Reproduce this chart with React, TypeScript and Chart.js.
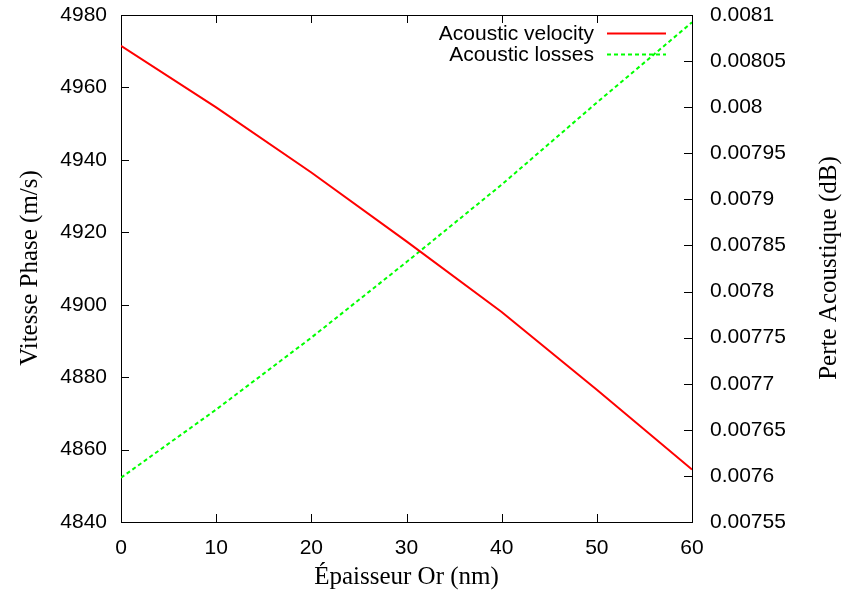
import React, { useEffect, useRef } from "react";
import { Chart, registerables } from "chart.js";

Chart.register(...registerables);

// ---- data ----
const thickness = [0, 10, 20, 30, 40, 50, 60];
const velocity = [4971.5, 4954.5, 4936.5, 4917.5, 4898, 4876.5, 4854.5];
const losses = [0.007598, 0.007672, 0.00775, 0.007832, 0.007916, 0.008005, 0.008092];

const xTicks = [0, 10, 20, 30, 40, 50, 60];
const velocityTicks = [4840, 4860, 4880, 4900, 4920, 4940, 4960, 4980];
const lossTicks = [0.00755, 0.0076, 0.00765, 0.0077, 0.00775, 0.0078, 0.00785, 0.0079, 0.00795, 0.008, 0.00805, 0.0081];

const seriesLabels = ["Acoustic velocity", "Acoustic losses"];
const xTitle = "Épaisseur Or (nm)";
const yTitle = "Vitesse Phase (m/s)";
const y2Title = "Perte Acoustique (dB)";

const SANS = "'Liberation Sans', Arial, sans-serif";
const SERIF = "'Liberation Serif', 'Times New Roman', serif";
const TICK_FONT = { family: SANS, size: 21 };

const fmtLoss = (v: number) => String(Number(v.toFixed(6)));

const decor = {
  id: "gnuplotDecor",
  beforeDatasetsDraw(chart: any) {
    const { ctx, chartArea } = chart;
    const { left, right, top, bottom } = chartArea;
    ctx.save();
    ctx.strokeStyle = "#000";
    ctx.lineWidth = 1;
    ctx.strokeRect(Math.round(left) + 0.5, Math.round(top) + 0.5, Math.round(right - left), Math.round(bottom - top));
    const L = 8;
    ctx.beginPath();
    const xs = chart.scales.x;
    xs.ticks.forEach((t: any) => {
      const px = Math.round(xs.getPixelForValue(t.value)) + 0.5;
      ctx.moveTo(px, bottom);
      ctx.lineTo(px, bottom - L);
      ctx.moveTo(px, top);
      ctx.lineTo(px, top + L);
    });
    const ys = chart.scales.y;
    ys.ticks.forEach((t: any) => {
      const py = Math.round(ys.getPixelForValue(t.value)) + 0.5;
      ctx.moveTo(left, py);
      ctx.lineTo(left + L, py);
    });
    const y2 = chart.scales.y1;
    y2.ticks.forEach((t: any) => {
      const py = Math.round(y2.getPixelForValue(t.value)) + 0.5;
      ctx.moveTo(right, py);
      ctx.lineTo(right - L, py);
    });
    ctx.stroke();
    ctx.restore();
  },
  afterDatasetsDraw(chart: any) {
    const { ctx, chartArea } = chart;
    ctx.save();
    // legend (inside, top right)
    ctx.font = `21px ${SANS}`;
    ctx.fillStyle = "#000";
    ctx.textAlign = "right";
    ctx.textBaseline = "middle";
    const rows = [33, 54];
    chart.data.datasets.forEach((ds: any, i: number) => {
      const y = rows[i];
      ctx.fillText(ds.label, 594, y + 1);
      ctx.beginPath();
      ctx.strokeStyle = ds.borderColor;
      ctx.lineWidth = ds.borderWidth;
      ctx.setLineDash(ds.borderDash || []);
      ctx.moveTo(607, y + 0.5);
      ctx.lineTo(666, y + 0.5);
      ctx.stroke();
    });
    ctx.setLineDash([]);
    // axis titles
    ctx.font = `25px ${SERIF}`;
    ctx.fillStyle = "#000";
    ctx.textAlign = "center";
    ctx.textBaseline = "middle";
    ctx.fillText(xTitle, (chartArea.left + chartArea.right) / 2, 577);
    ctx.save();
    ctx.translate(30, 268);
    ctx.rotate(-Math.PI / 2);
    ctx.fillText(yTitle, 0, 0);
    ctx.restore();
    ctx.save();
    ctx.translate(829, 268);
    ctx.rotate(-Math.PI / 2);
    ctx.fillText(y2Title, 0, 0);
    ctx.restore();
    ctx.restore();
  },
};

export default function App() {
  const ref = useRef<HTMLCanvasElement | null>(null);
  useEffect(() => {
    if (!ref.current) return;
    const chart = new Chart(ref.current, {
      type: "line",
      data: {
        datasets: [
          {
            label: seriesLabels[0],
            data: thickness.map((x, i) => ({ x, y: velocity[i] })),
            yAxisID: "y",
            borderColor: "#ff0000",
            borderWidth: 2,
            pointRadius: 0,
            tension: 0,
            fill: false,
          },
          {
            label: seriesLabels[1],
            data: thickness.map((x, i) => ({ x, y: losses[i] })),
            yAxisID: "y1",
            borderColor: "#00ff00",
            borderWidth: 2,
            borderDash: [4, 3],
            pointRadius: 0,
            tension: 0,
            fill: false,
          },
        ],
      },
      options: {
        responsive: false,
        animation: false,
        events: [],
        layout: { padding: { top: 15, left: 0, right: 0, bottom: 0 } },
        plugins: { legend: { display: false }, title: { display: false }, tooltip: { enabled: false } },
        scales: {
          x: {
            type: "linear",
            position: "bottom",
            min: 0,
            max: 60,
            grid: { display: false, drawTicks: false },
            border: { display: false },
            ticks: { font: TICK_FONT, color: "#000", padding: 14, maxRotation: 0 },
            afterBuildTicks: (s: any) => { s.ticks = xTicks.map((v) => ({ value: v })); },
            afterFit: (s: any) => { s.height = 68; s.paddingLeft = 0; s.paddingRight = 0; },
          },
          y: {
            type: "linear",
            position: "left",
            min: 4840,
            max: 4980,
            grid: { display: false, drawTicks: false },
            border: { display: false },
            ticks: { font: TICK_FONT, color: "#000", padding: 14, callback: (v: any) => String(v) },
            afterBuildTicks: (s: any) => { s.ticks = velocityTicks.map((v) => ({ value: v })); },
            afterFit: (s: any) => { s.width = 121; s.paddingTop = 0; s.paddingBottom = 0; },
          },
          y1: {
            type: "linear",
            position: "right",
            min: 0.00755,
            max: 0.0081,
            grid: { display: false, drawTicks: false },
            border: { display: false },
            ticks: { font: TICK_FONT, color: "#000", padding: 18, callback: (v: any) => fmtLoss(Number(v)) },
            afterBuildTicks: (s: any) => { s.ticks = lossTicks.map((v) => ({ value: v })); },
            afterFit: (s: any) => { s.width = 150; s.paddingTop = 0; s.paddingBottom = 0; },
          },
        },
      },
      plugins: [decor],
    });
    return () => chart.destroy();
  }, []);
  return (
    <div style={{ position: "absolute", left: 0, top: 0, width: 842, height: 590, background: "#fff" }}>
      <canvas ref={ref} width={842} height={590} />
    </div>
  );
}
